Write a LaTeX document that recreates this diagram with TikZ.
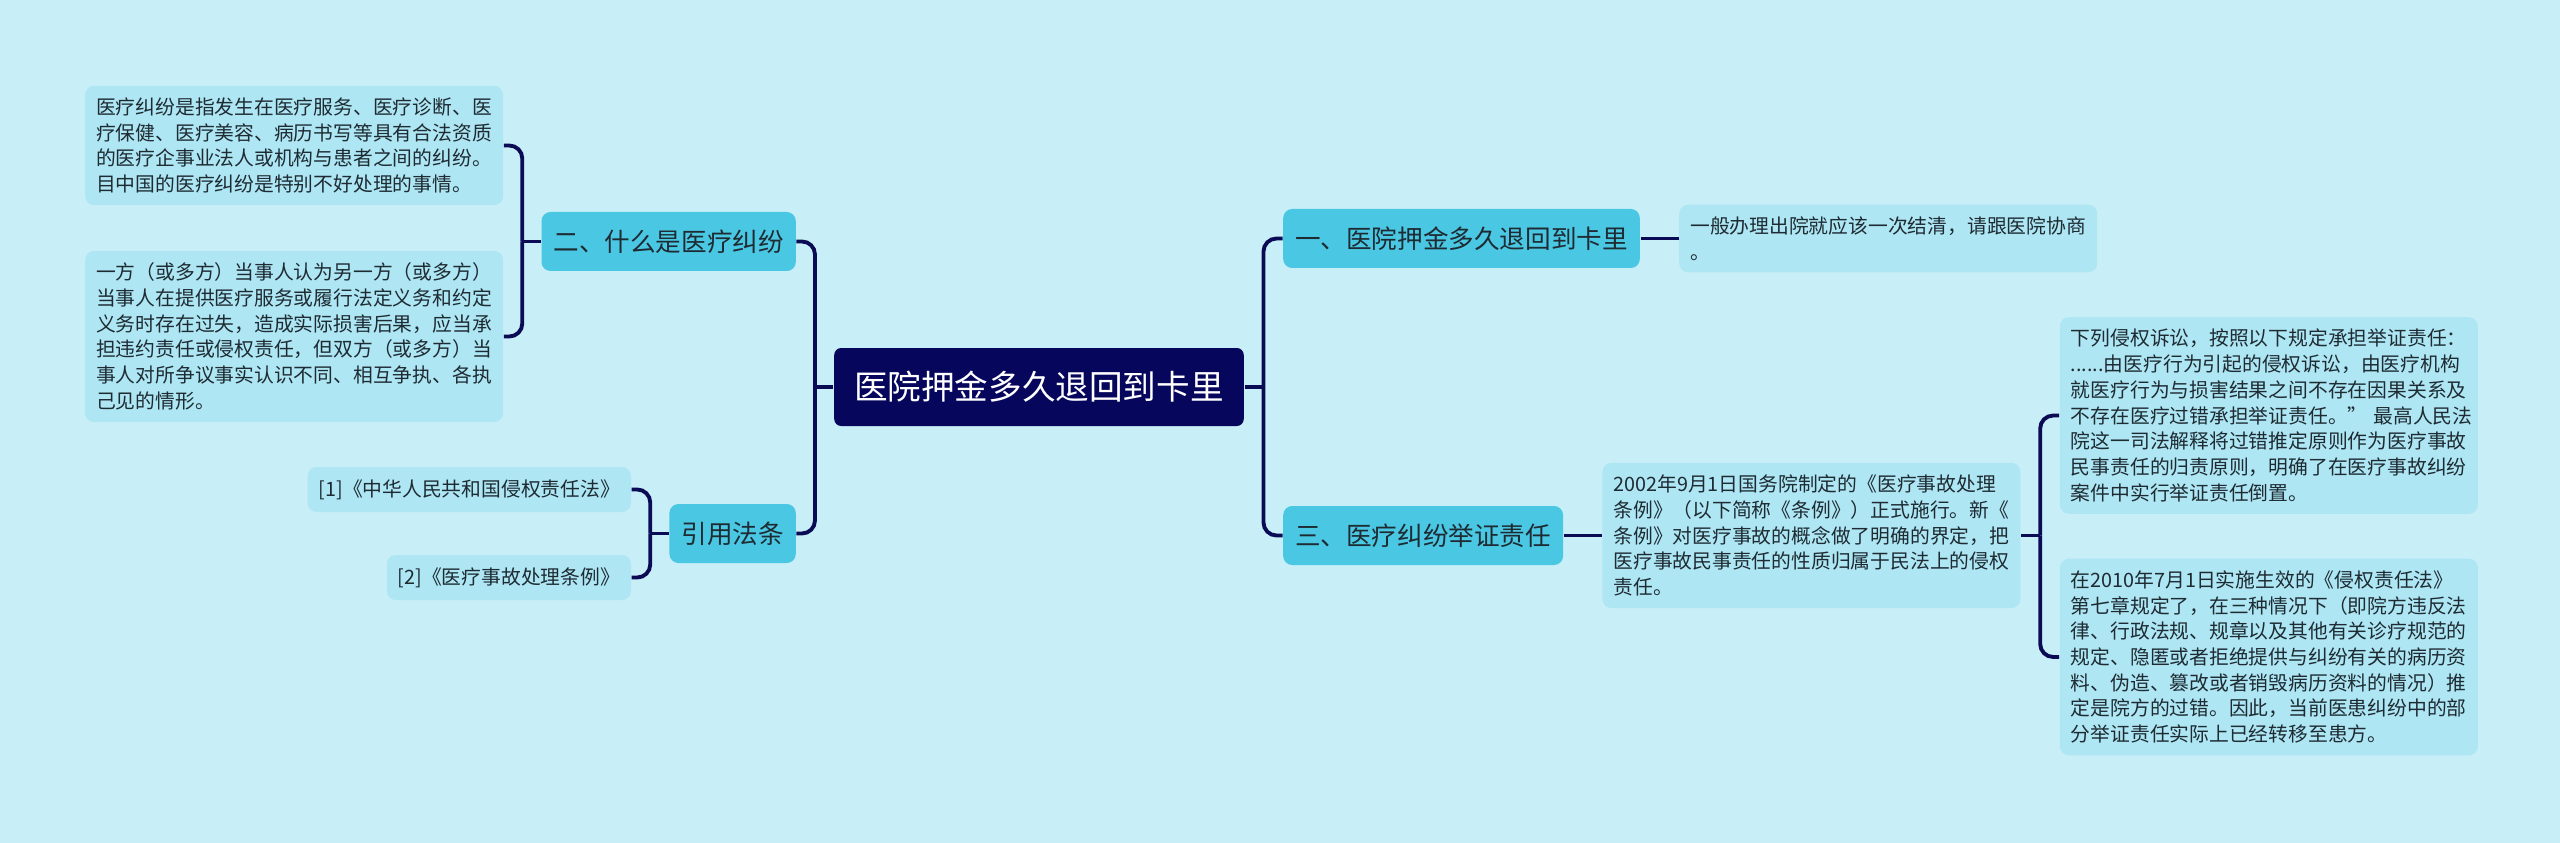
\documentclass[tikz,border=0pt]{standalone}
\usepackage{fontspec}
\setmainfont{Noto Sans CJK SC}
\usepackage{xcolor}
\usepackage{tikz}
\usetikzlibrary{positioning}

\definecolor{bgcol}{HTML}{C8EFF7}
\definecolor{rootcol}{HTML}{06065C}
\definecolor{topiccol}{HTML}{4AC7E2}
\definecolor{notecol}{HTML}{AEE6F3}
\definecolor{linkcol}{HTML}{0B0B55}
\definecolor{txtcol}{HTML}{1E2B33}

\begin{document}
\begin{tikzpicture}[
  root/.style={fill=rootcol, text=white, rounded corners=0.07cm,
    minimum height=0.78cm, inner xsep=0.2cm, font=\fontsize{9.56pt}{11pt}\selectfont},
  topic/.style={fill=topiccol, text=txtcol, rounded corners=0.09cm,
    minimum height=0.59cm, inner xsep=0.12cm, font=\fontsize{7.28pt}{9pt}\selectfont},
  note/.style={fill=notecol, text=txtcol, rounded corners=0.09cm,
    minimum height=0.45cm, inner xsep=0.11cm, inner ysep=0.12cm,
    font=\fontsize{5.63pt}{7.31pt}\selectfont},
  longnote/.style={note, text width=3.96cm, align=left},
  link/.style={draw=linkcol, line width=1.1pt, rounded corners=0.13cm},
]
% Background and frame
\fill[bgcol] (-10.39,-4.56) rectangle (15.21,3.87);
\useasboundingbox (-10.39,-4.56) rectangle (15.21,3.87);

% Central topic
\node[root] (main) at (0,0) {医院押金多久退回到卡里};

% Right side topics
\node[topic, right=0.38cm of main, yshift=1.485cm] (t1) {一、医院押金多久退回到卡里};
\node[topic, right=0.38cm of main, yshift=-1.485cm] (t3) {三、医疗纠纷举证责任};

% Left side topics
\node[topic, left=0.37cm of main, yshift=1.455cm] (t2) {二、什么是医疗纠纷};
\node[topic, left=0.37cm of main, yshift=-1.465cm] (t4) {引用法条};

% Notes of topic one
\node[longnote, right=0.38cm of t1] (n1) {一般办理出院就应该一次结清，请跟医院协商\\
。};

% Notes of topic three
\node[longnote, right=0.38cm of t3] (n3) {2002年9月1日国务院制定的《医疗事故处理\\
条例》（以下简称《条例》）正式施行。新《\\
条例》对医疗事故的概念做了明确的界定，把\\
医疗事故民事责任的性质归属于民法上的侵权\\
责任。};
\node[longnote, right=0.38cm of n3, yshift=1.2cm] (n4) {下列侵权诉讼，按照以下规定承担举证责任：\\
......由医疗行为引起的侵权诉讼，由医疗机构\\
就医疗行为与损害结果之间不存在因果关系及\\
\mbox{不存在医疗过错承担举证责任。”\hspace{0.3em}最高人民法}\\
院这一司法解释将过错推定原则作为医疗事故\\
民事责任的归责原则，明确了在医疗事故纠纷\\
案件中实行举证责任倒置。};
\node[longnote, right=0.38cm of n3, yshift=-1.215cm] (n5) {在2010年7月1日实施生效的《侵权责任法》\\
第七章规定了，在三种情况下（即院方违反法\\
律、行政法规、规章以及其他有关诊疗规范的\\
规定、隐匿或者拒绝提供与纠纷有关的病历资\\
料、伪造、篡改或者销毁病历资料的情况）推\\
定是院方的过错。因此，当前医患纠纷中的部\\
分举证责任实际上已经转移至患方。};

% Notes of topic two
\node[longnote, left=0.37cm of t2, yshift=0.96cm] (n6) {医疗纠纷是指发生在医疗服务、医疗诊断、医\\
疗保健、医疗美容、病历书写等具有合法资质\\
的医疗企事业法人或机构与患者之间的纠纷。\\
目中国的医疗纠纷是特别不好处理的事情。};
\node[longnote, left=0.37cm of t2, yshift=-0.95cm] (n7) {一方（或多方）当事人认为另一方（或多方）\\
当事人在提供医疗服务或履行法定义务和约定\\
义务时存在过失，造成实际损害后果，应当承\\
担违约责任或侵权责任，但双方（或多方）当\\
事人对所争议事实认识不同、相互争执、各执\\
己见的情形。};

% Cited laws
\node[note, left=0.37cm of t4, yshift=0.44cm] (n8) {[1]《中华人民共和国侵权责任法》};
\node[note, left=0.37cm of t4, yshift=-0.44cm] (n9) {[2]《医疗事故处理条例》};

% Junctions
\coordinate (jr) at ([xshift=0.19cm]main.east);
\coordinate (jl) at ([xshift=-0.185cm]main.west);
\coordinate (j2) at ([xshift=-0.185cm]t2.west);
\coordinate (j4) at ([xshift=-0.185cm]t4.west);
\coordinate (j3) at ([xshift=0.19cm]n3.east);

% Connectors
\draw[link] (main.east) -- (jr);
\draw[link] (jr) |- (t1.west);
\draw[link] (jr) |- (t3.west);
\draw[link] (main.west) -- (jl);
\draw[link] (jl) |- (t2.east);
\draw[link] (jl) |- (t4.east);
\draw[link] (t1.east) -- (n1.west);
\draw[link] (t3.east) -- (n3.west);
\draw[link] (n3.east) -- (j3);
\draw[link] (j3) |- (n4.west);
\draw[link] (j3) |- (n5.west);
\draw[link] (t2.west) -- (j2);
\draw[link] (j2) |- (n6.east);
\draw[link] (j2) |- (n7.east);
\draw[link] (t4.west) -- (j4);
\draw[link] (j4) |- (n8.east);
\draw[link] (j4) |- (n9.east);
\end{tikzpicture}
\end{document}
